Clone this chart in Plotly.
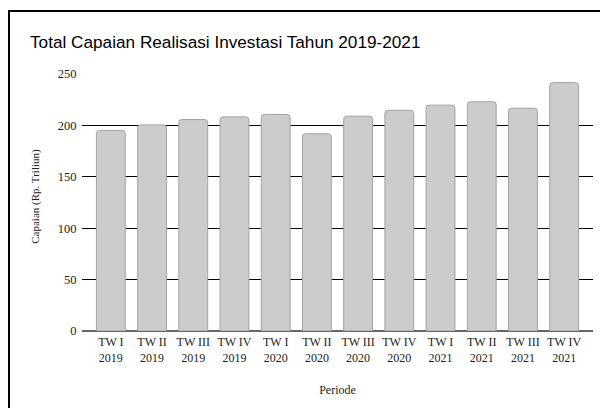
import plotly.graph_objects as go

categories = ["TW I<br>2019", "TW II<br>2019", "TW III<br>2019", "TW IV<br>2019",
              "TW I<br>2020", "TW II<br>2020", "TW III<br>2020", "TW IV<br>2020",
              "TW I<br>2021", "TW II<br>2021", "TW III<br>2021", "TW IV<br>2021"]
values = [195.1, 200.5, 205.7, 208.3, 210.7, 191.9, 209.0, 214.7, 219.7, 223.0, 216.7, 241.6]
y_ticks = [0, 50, 100, 150, 200, 250]

W, H = 600, 408
L, R, T, B = 82, 7, 74, 76.5
pw, ph = W - L - R, H - T - B

fig = go.Figure(go.Bar(
    x=categories, y=values,
    marker=dict(color="#cccccc", line=dict(color="#a3a3a3", width=1), cornerradius=3),
    width=0.7,
))

serif = "Liberation Serif, Times New Roman, serif"

fig.update_layout(
    width=W, height=H,
    margin=dict(l=L, r=R, t=T, b=B),
    paper_bgcolor="white", plot_bgcolor="white",
    showlegend=False,
    title=dict(text="Total Capaian Realisasi Investasi Tahun 2019-2021",
               font=dict(family="Liberation Sans, Arial, sans-serif", size=17.2, color="#000"),
               x=30 / W, xanchor="left", xref="container",
               y=1 - 42 / H, yanchor="middle", yref="container"),
    xaxis=dict(range=[-0.7, 11.7], showgrid=False, showline=False, zeroline=False,
               tickfont=dict(family=serif, size=12, color="#222"),
               ticks="", ticklabelstandoff=2,
               title=dict(text="Periode", font=dict(family=serif, size=12, color="#222"),
                          standoff=22)),
    yaxis=dict(range=[0, 250], tickvals=y_ticks, showgrid=True, gridcolor="#000", gridwidth=1,
               zeroline=True, zerolinecolor="#666", zerolinewidth=1.5, showline=False,
               ticks="outside", ticklen=2, tickcolor="rgba(0,0,0,0)",
               tickfont=dict(family=serif, size=12.5, color="#222")),
    annotations=[dict(text="Capaian (Rp. Triliun)", textangle=-90,
                      xref="paper", yref="paper",
                      x=(36 - L) / pw, y=(H - B - 197) / ph,
                      xanchor="center", yanchor="middle", showarrow=False,
                      font=dict(family=serif, size=11, color="#222"))],
    shapes=[dict(type="rect", xref="paper", yref="paper",
                 x0=(9 - L) / pw, x1=(W + 10 - L) / pw,
                 y0=(H - B - (H + 10)) / ph, y1=(H - B - 11) / ph,
                 line=dict(color="#000", width=2), fillcolor="rgba(0,0,0,0)", layer="above")],
)

fig.write_html("out.html")
